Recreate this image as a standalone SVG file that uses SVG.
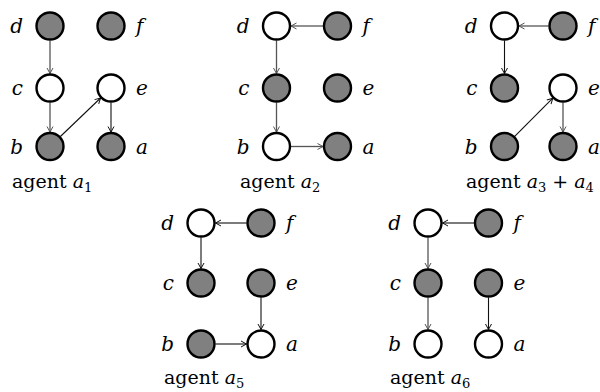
<svg xmlns="http://www.w3.org/2000/svg" width="600" height="392" viewBox="0 0 600 392">
<defs>
<marker id="ak" markerUnits="userSpaceOnUse" markerWidth="8" markerHeight="8" refX="6" refY="3" orient="auto" overflow="visible"><path d="M0.5,0 L6,3 L0.5,6" fill="none" stroke="#111" stroke-width="1"/></marker>
<marker id="ag" markerUnits="userSpaceOnUse" markerWidth="8" markerHeight="8" refX="6" refY="3" orient="auto" overflow="visible"><path d="M0.5,0 L6,3 L0.5,6" fill="none" stroke="#555" stroke-width="1"/></marker>
</defs>
<style>
.n circle{stroke:#000;stroke-width:2.4}
.g circle{fill:#808080}
.w circle{fill:#fff}
text{font-family:'DejaVu Serif','Liberation Serif',serif;fill:#000}
.n text{font-style:italic;font-size:20px}
.l{text-anchor:end}
.k{stroke:#111;stroke-width:1.1;fill:none;marker-end:url(#ak)}
.h{stroke:#555;stroke-width:1.3;fill:none;marker-end:url(#ag)}
.cap{font-size:19px}
.cap .i{font-style:italic}
.cap .s{font-size:13px}
</style>
<g id="connectors">
<line class="h" x1="50" y1="40.5" x2="50" y2="73.5"/>
<line class="h" x1="50" y1="102.5" x2="50" y2="132"/>
<line class="k" x1="60.4" y1="136.5" x2="100.6" y2="98"/>
<line class="k" x1="111" y1="102.5" x2="111" y2="132"/>
<line class="h" x1="323" y1="26" x2="291" y2="26"/>
<line class="h" x1="276.5" y1="40.5" x2="276.5" y2="73.5"/>
<line class="h" x1="276.5" y1="102.5" x2="276.5" y2="132"/>
<line class="h" x1="291" y1="146.5" x2="323" y2="146.5"/>
<line class="h" x1="548.5" y1="26" x2="519" y2="26"/>
<line class="k" x1="504.5" y1="40.5" x2="504.5" y2="73.5"/>
<line class="k" x1="514.7" y1="136.3" x2="552.8" y2="98.2"/>
<line class="h" x1="563" y1="102.5" x2="563" y2="132"/>
<line class="k" x1="246.5" y1="223" x2="215.5" y2="223"/>
<line class="k" x1="201" y1="237.5" x2="201" y2="268.5"/>
<line class="k" x1="261" y1="297.5" x2="261" y2="329.5"/>
<line class="k" x1="215.5" y1="344" x2="246.5" y2="344"/>
<line class="k" x1="474" y1="223" x2="442.5" y2="223"/>
<line class="h" x1="428" y1="237.5" x2="428" y2="268.5"/>
<line class="h" x1="428" y1="297.5" x2="428" y2="329.5"/>
<line class="k" x1="488.5" y1="297.5" x2="488.5" y2="329.5"/>
</g>
<g id="p1-d" class="n g"><circle cx="50" cy="26" r="13.5"/><text class="l" x="23" y="33">d</text></g>
<g id="p1-f" class="n g"><circle cx="111" cy="26" r="13.5"/><text x="136" y="33">f</text></g>
<g id="p1-c" class="n w"><circle cx="50" cy="88" r="13.5"/><text class="l" x="23" y="95">c</text></g>
<g id="p1-e" class="n w"><circle cx="111" cy="88" r="13.5"/><text x="136" y="95">e</text></g>
<g id="p1-b" class="n g"><circle cx="50" cy="146.5" r="13.5"/><text class="l" x="23" y="153.5">b</text></g>
<g id="p1-a" class="n g"><circle cx="111" cy="146.5" r="13.5"/><text x="136" y="153.5">a</text></g>
<text class="cap" x="12" y="188">agent <tspan class="i">a</tspan><tspan class="s" dy="4">1</tspan></text>

<g id="p2-d" class="n w"><circle cx="276.5" cy="26" r="13.5"/><text class="l" x="249.5" y="33">d</text></g>
<g id="p2-f" class="n g"><circle cx="337.5" cy="26" r="13.5"/><text x="362.5" y="33">f</text></g>
<g id="p2-c" class="n g"><circle cx="276.5" cy="88" r="13.5"/><text class="l" x="249.5" y="95">c</text></g>
<g id="p2-e" class="n g"><circle cx="337.5" cy="88" r="13.5"/><text x="362.5" y="95">e</text></g>
<g id="p2-b" class="n w"><circle cx="276.5" cy="146.5" r="13.5"/><text class="l" x="249.5" y="153.5">b</text></g>
<g id="p2-a" class="n g"><circle cx="337.5" cy="146.5" r="13.5"/><text x="362.5" y="153.5">a</text></g>
<text class="cap" x="240" y="188">agent <tspan class="i">a</tspan><tspan class="s" dy="4">2</tspan></text>

<g id="p3-d" class="n w"><circle cx="504.5" cy="26" r="13.5"/><text class="l" x="477.5" y="33">d</text></g>
<g id="p3-f" class="n g"><circle cx="563" cy="26" r="13.5"/><text x="588" y="33">f</text></g>
<g id="p3-c" class="n g"><circle cx="504.5" cy="88" r="13.5"/><text class="l" x="477.5" y="95">c</text></g>
<g id="p3-e" class="n w"><circle cx="563" cy="88" r="13.5"/><text x="588" y="95">e</text></g>
<g id="p3-b" class="n g"><circle cx="504.5" cy="146.5" r="13.5"/><text class="l" x="477.5" y="153.5">b</text></g>
<g id="p3-a" class="n g"><circle cx="563" cy="146.5" r="13.5"/><text x="588" y="153.5">a</text></g>
<text class="cap" x="466" y="188">agent <tspan class="i">a</tspan><tspan class="s" dy="4">3</tspan><tspan dy="-4"> + </tspan><tspan class="i">a</tspan><tspan class="s" dy="4">4</tspan></text>

<g id="p4-d" class="n w"><circle cx="201" cy="223" r="13.5"/><text class="l" x="174" y="230">d</text></g>
<g id="p4-f" class="n g"><circle cx="261" cy="223" r="13.5"/><text x="286" y="230">f</text></g>
<g id="p4-c" class="n g"><circle cx="201" cy="283" r="13.5"/><text class="l" x="174" y="290">c</text></g>
<g id="p4-e" class="n g"><circle cx="261" cy="283" r="13.5"/><text x="286" y="290">e</text></g>
<g id="p4-b" class="n g"><circle cx="201" cy="344" r="13.5"/><text class="l" x="174" y="351">b</text></g>
<g id="p4-a" class="n w"><circle cx="261" cy="344" r="13.5"/><text x="286" y="351">a</text></g>
<text class="cap" x="164" y="384">agent <tspan class="i">a</tspan><tspan class="s" dy="4">5</tspan></text>

<g id="p5-d" class="n w"><circle cx="428" cy="223" r="13.5"/><text class="l" x="401" y="230">d</text></g>
<g id="p5-f" class="n g"><circle cx="488.5" cy="223" r="13.5"/><text x="513.5" y="230">f</text></g>
<g id="p5-c" class="n g"><circle cx="428" cy="283" r="13.5"/><text class="l" x="401" y="290">c</text></g>
<g id="p5-e" class="n g"><circle cx="488.5" cy="283" r="13.5"/><text x="513.5" y="290">e</text></g>
<g id="p5-b" class="n w"><circle cx="428" cy="344" r="13.5"/><text class="l" x="401" y="351">b</text></g>
<g id="p5-a" class="n w"><circle cx="488.5" cy="344" r="13.5"/><text x="513.5" y="351">a</text></g>
<text class="cap" x="390" y="384">agent <tspan class="i">a</tspan><tspan class="s" dy="4">6</tspan></text>
</svg>
